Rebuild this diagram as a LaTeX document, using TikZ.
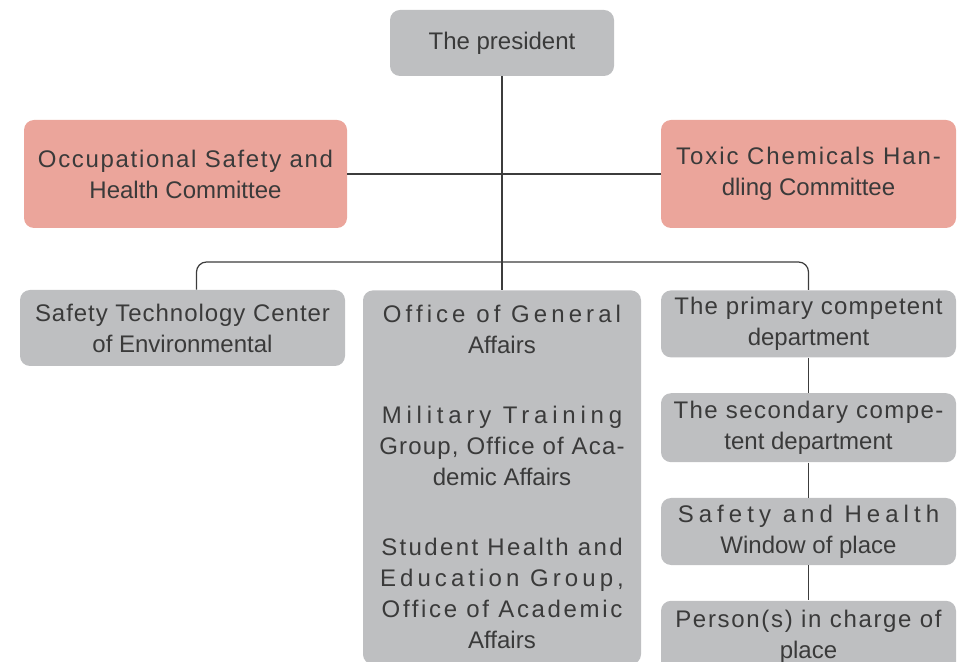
\documentclass[tikz,border=0pt]{standalone}
\usepackage{fontspec}
\setmainfont{Liberation Sans}
\usetikzlibrary{positioning}
\definecolor{boxgray}{HTML}{BEBFC1}
\definecolor{boxpink}{HTML}{EBA59B}
\definecolor{txtgray}{HTML}{3A3A3A}
\definecolor{linegray}{HTML}{3C3C3C}
\newcommand{\spaced}[2]{{\addfontfeature{LetterSpace=#1}#2}}
\tikzset{
  gblk/.style={fill=boxgray, rounded corners=5pt, inner sep=0pt, align=center, text=txtgray, font=\fontsize{12}{15.5}\selectfont},
  pblk/.style={gblk, fill=boxpink},
  rblk/.style={gblk, minimum width=147.5pt},
  link/.style={draw=linegray, line width=0.6pt},
}
\begin{document}
\begin{tikzpicture}[x=0.5pt, y=-0.5pt]
\useasboundingbox (0,0) rectangle (964,662);

% Top
\node[gblk, minimum width=112pt, minimum height=33pt] (pres) at (502,43) {The president};

% Committees
\node[pblk, minimum width=161.5pt, minimum height=54pt] (osh) at (185.5,174)
  {\spaced{7}{Occupational Safety and}\\Health Committee};
\node[pblk, minimum width=147.5pt, minimum height=54pt] (tch) at (808.5,174)
  {\spaced{8}{Toxic Chemicals Han-}\\dling Committee};

% Units
\node[gblk, minimum width=162.5pt, minimum height=38pt] (stc) at (182.5,328)
  {\spaced{4}{Safety Technology Center}\\of Environmental};
\node[gblk, minimum width=139pt, minimum height=187pt, anchor=north] (oga) at (502,290)
  {\spaced{17}{Office of General}\\Affairs\\[19.5pt]
   \spaced{20}{Military Training}\\\spaced{5}{Group, Office of Aca-}\\demic Affairs\\[19.5pt]
   \spaced{10}{Student Health and}\\\spaced{17}{Education Group,}\\\spaced{11}{Office of Academic}\\Affairs};

% Chain of departments
\node[rblk, minimum height=33.5pt, anchor=north] (prim) at (808.5,290)
  {\spaced{5}{The primary competent}\\department};
\node[rblk, below=17.5pt of prim, minimum height=34.5pt] (sec)
  {\spaced{6}{The secondary compe-}\\tent department};
\node[rblk, below=17.5pt of sec, minimum height=33.5pt] (win)
  {\spaced{21}{Safety and Health}\\Window of place};
\node[rblk, below=17.5pt of win, minimum height=36pt] (pic)
  {\spaced{7}{Person(s) in charge of}\\place};

% Lines
\coordinate (fork) at (502,262);
\draw[link] (pres) -- (oga);
\draw[link] (osh) -- (tch);
\draw[link, rounded corners=5pt] ([xshift=7pt]stc.north) |- (fork) -| (prim.north);
\draw[link] (prim) -- (sec);
\draw[link] (sec) -- (win);
\draw[link] (win) -- (pic);

\end{tikzpicture}
\end{document}
